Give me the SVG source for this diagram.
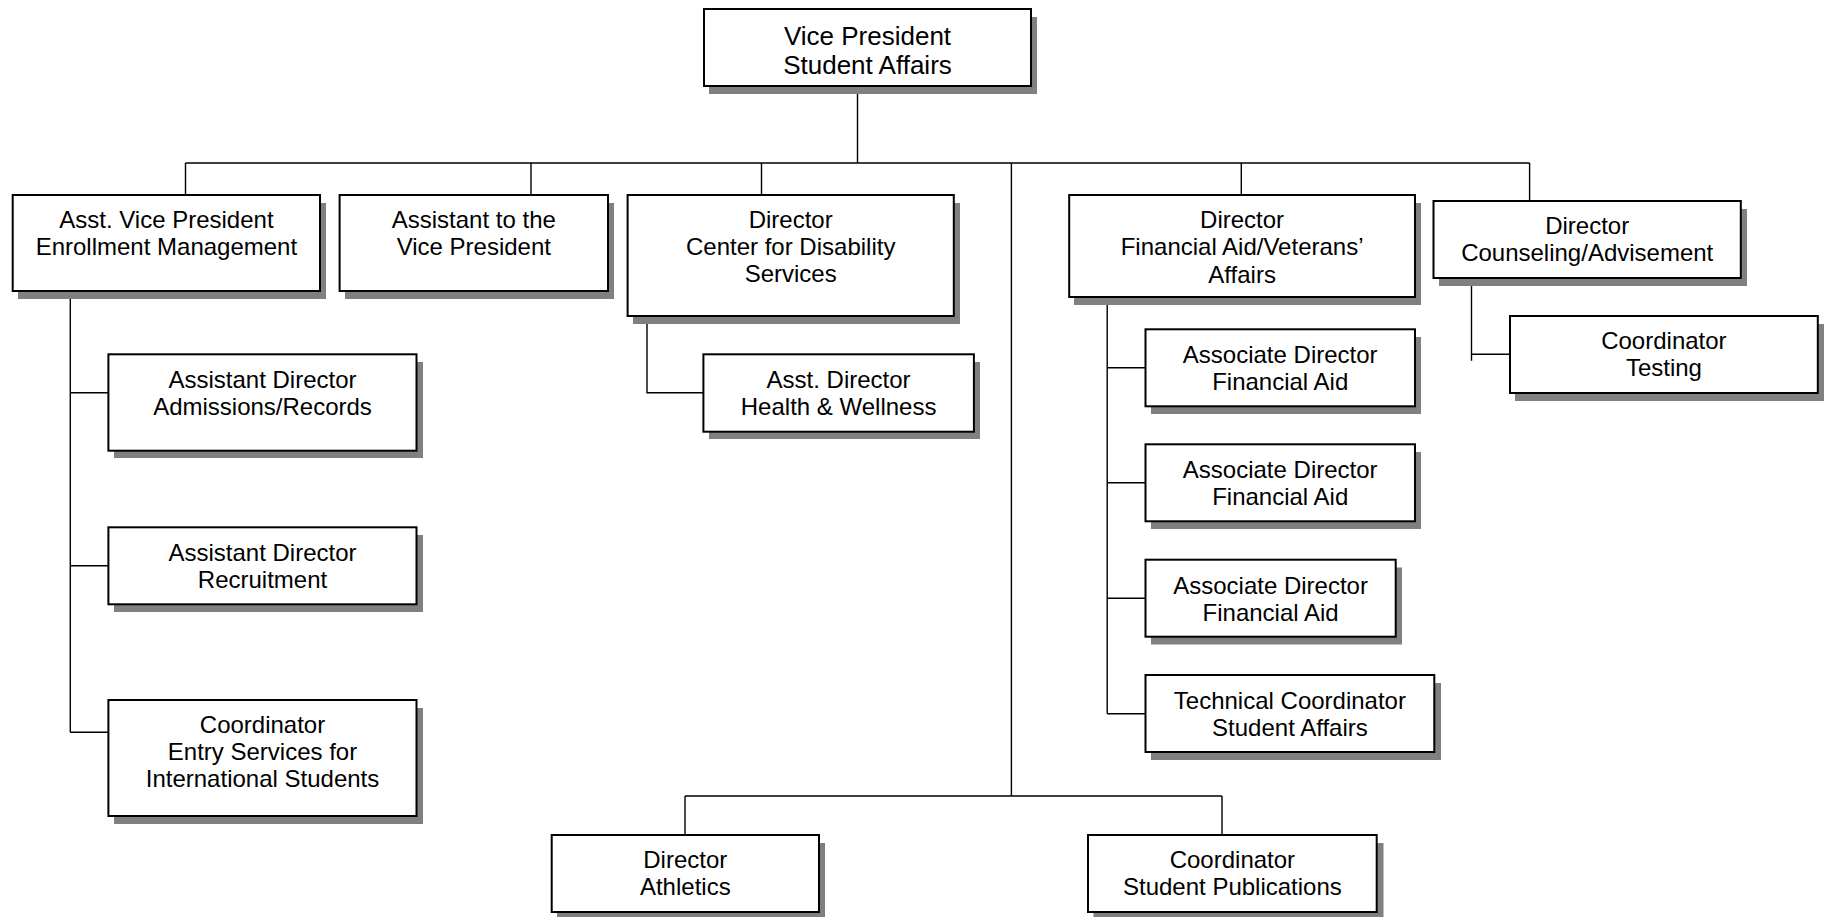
<svg xmlns="http://www.w3.org/2000/svg" width="1828" height="917" viewBox="0 0 1828 917">
<style>
.sh{fill:#808080}
.bx{fill:#fff;stroke:#000;stroke-width:2}
.t{font-family:"Liberation Sans",Arial,sans-serif;font-size:24px;fill:#000;text-anchor:middle}
.tv{font-size:26px}
.c{fill:none;stroke:#000;stroke-width:1.4}
</style>
<rect width="1828" height="917" fill="#fff"/>
<g id="connectors">
<path class="c" d="M857.5 86V163M185.5 163H1529.6M185.5 163V201M531 163V195M761.5 163V195M1241.3 163V195M1529.6 163V201M1011.4 163V796M685 796H1222M685 796V835M1222 796V835"/>
<path class="c" d="M70.3 291V732.3M70.3 392.7H108.4M70.3 565.7H108.4M70.3 732.3H108.4"/>
<path class="c" d="M647 316V392.7H703.4"/>
<path class="c" d="M1107.2 297V713.7M1107.2 367.7H1145.5M1107.2 482.7H1145.5M1107.2 598.3H1145.5M1107.2 713.7H1145.5"/>
<path class="c" d="M1471.5 278V360.7M1471.5 354.3H1510"/>
</g>
<g id="vp">
<rect class="sh" x="709" y="17" width="328" height="77"/>
<rect class="bx" x="704" y="9" width="327" height="77"/>
<text class="t tv" x="867.5" y="44.5">Vice President</text>
<text class="t tv" x="867.5" y="73.5">Student Affairs</text>
</g>
<g id="asst-vp">
<rect class="sh" x="18" y="203" width="308" height="96"/>
<rect class="bx" x="12.7" y="195" width="307.3" height="96"/>
<text class="t" x="166.4" y="228">Asst. Vice President</text>
<text class="t" x="166.4" y="255">Enrollment Management</text>
</g>
<g id="assistant-vp">
<rect class="sh" x="345" y="203" width="269" height="96"/>
<rect class="bx" x="339.6" y="195" width="268.4" height="96"/>
<text class="t" x="473.8" y="228">Assistant to the</text>
<text class="t" x="473.8" y="255">Vice President</text>
</g>
<g id="dir-disability">
<rect class="sh" x="633" y="203" width="327" height="121"/>
<rect class="bx" x="627.6" y="195" width="326.2" height="121"/>
<text class="t" x="790.7" y="228">Director</text>
<text class="t" x="790.7" y="255">Center for Disability</text>
<text class="t" x="790.7" y="282">Services</text>
</g>
<g id="dir-finaid">
<rect class="sh" x="1074" y="203" width="347" height="102"/>
<rect class="bx" x="1069.2" y="195" width="345.8" height="102"/>
<text class="t" x="1242.1" y="227.5">Director</text>
<text class="t" x="1242.1" y="255">Financial Aid/Veterans’</text>
<text class="t" x="1242.1" y="282.5">Affairs</text>
</g>
<g id="dir-counseling">
<rect class="sh" x="1439" y="209" width="308" height="77"/>
<rect class="bx" x="1433.5" y="201" width="307.3" height="77"/>
<text class="t" x="1587.2" y="233.5">Director</text>
<text class="t" x="1587.2" y="261">Counseling/Advisement</text>
</g>
<g id="coord-testing">
<rect class="sh" x="1515" y="324" width="309" height="77"/>
<rect class="bx" x="1510" y="316" width="307.8" height="77"/>
<text class="t" x="1663.9" y="349">Coordinator</text>
<text class="t" x="1663.9" y="376">Testing</text>
</g>
<g id="admissions">
<rect class="sh" x="114" y="362" width="309" height="96"/>
<rect class="bx" x="108.4" y="354.3" width="308.1" height="96.4"/>
<text class="t" x="262.5" y="387.5">Assistant Director</text>
<text class="t" x="262.5" y="414.5">Admissions/Records</text>
</g>
<g id="recruitment">
<rect class="sh" x="114" y="535" width="309" height="77"/>
<rect class="bx" x="108.4" y="527.3" width="308.1" height="77"/>
<text class="t" x="262.5" y="560.5">Assistant Director</text>
<text class="t" x="262.5" y="587.5">Recruitment</text>
</g>
<g id="entry-services">
<rect class="sh" x="114" y="708" width="309" height="116"/>
<rect class="bx" x="108.4" y="700" width="308.1" height="116"/>
<text class="t" x="262.5" y="733">Coordinator</text>
<text class="t" x="262.5" y="760">Entry Services for</text>
<text class="t" x="262.5" y="787">International Students</text>
</g>
<g id="health-wellness">
<rect class="sh" x="709" y="362" width="271" height="77"/>
<rect class="bx" x="703.4" y="354.3" width="270.5" height="77.4"/>
<text class="t" x="838.6" y="387.5">Asst. Director</text>
<text class="t" x="838.6" y="414.5">Health &amp; Wellness</text>
</g>
<g id="assoc-1">
<rect class="sh" x="1151" y="337" width="270" height="77"/>
<rect class="bx" x="1145.5" y="329.3" width="269.5" height="77"/>
<text class="t" x="1280.2" y="363">Associate Director</text>
<text class="t" x="1280.2" y="390">Financial Aid</text>
</g>
<g id="assoc-2">
<rect class="sh" x="1151" y="452" width="270" height="77"/>
<rect class="bx" x="1145.5" y="444.3" width="269.5" height="77"/>
<text class="t" x="1280.2" y="478.3">Associate Director</text>
<text class="t" x="1280.2" y="505">Financial Aid</text>
</g>
<g id="assoc-3">
<rect class="sh" x="1151" y="567.5" width="251" height="77"/>
<rect class="bx" x="1145.5" y="559.7" width="250.2" height="77"/>
<text class="t" x="1270.6" y="593.5">Associate Director</text>
<text class="t" x="1270.6" y="620.5">Financial Aid</text>
</g>
<g id="tech-coord">
<rect class="sh" x="1151" y="683" width="290" height="77"/>
<rect class="bx" x="1145.5" y="675" width="288.8" height="77"/>
<text class="t" x="1289.9" y="709">Technical Coordinator</text>
<text class="t" x="1289.9" y="736">Student Affairs</text>
</g>
<g id="athletics">
<rect class="sh" x="557" y="843" width="268" height="77"/>
<rect class="bx" x="551.7" y="835" width="267.3" height="77"/>
<text class="t" x="685.3" y="867.5">Director</text>
<text class="t" x="685.3" y="894.5">Athletics</text>
</g>
<g id="student-pub">
<rect class="sh" x="1093.5" y="843" width="290" height="77"/>
<rect class="bx" x="1088" y="835" width="288.7" height="77"/>
<text class="t" x="1232.4" y="867.5">Coordinator</text>
<text class="t" x="1232.4" y="894.5">Student Publications</text>
</g>
</svg>
